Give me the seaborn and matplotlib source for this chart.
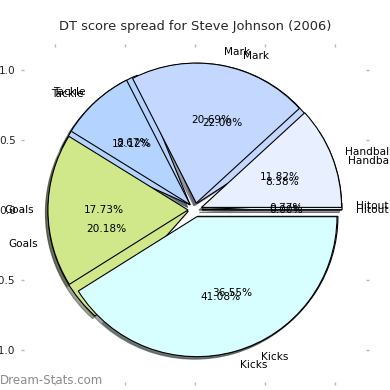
import matplotlib
matplotlib.use("Agg")
import matplotlib.pyplot as plt
import seaborn as sns

# stat categories, in wedge order (counter-clockwise from 0 deg)
categories = ["Hitout", "Handball", "Mark", "Tackle", "Goals", "Kicks"]
# share of DT score (%) - front pie
front_pct = [0.00, 11.82, 20.69, 8.67, 17.73, 41.08]
# share of DT score (%) - back pie
back_pct = [0.77, 8.38, 22.00, 12.12, 20.18, 36.55]

wedge_colors = ["#e4ecff", "#e8f0ff", "#c4d8ff", "#b4d4ff", "#d0e88a", "#d8ffff"]

sns.set_theme(style="white")
plt.rcParams['font.family'] = ['DejaVu Sans']

FS = 7.6
palette = sns.color_palette(wedge_colors)

fig = plt.figure(figsize=(3.9, 3.9), dpi=100)
ax = fig.add_axes([24 / 390, 8 / 390, 342 / 390, 335 / 390])

for vals in (back_pct, front_pct):
    ax.pie(vals, labels=categories, colors=palette, explode=[0.05] * len(vals),
           autopct='%.2f%%', shadow={'ox': -0.013, 'oy': -0.013}, startangle=0,
           wedgeprops=dict(edgecolor='black', linewidth=0.8),
           textprops=dict(fontsize=FS, color='black'))

ax.set_aspect('auto')
ax.set_xlim(-1.221, 1.221)
ax.set_ylim(-1.229, 1.164)
ticks = [-1.0, -0.5, 0.0, 0.5, 1.0]
ax.set_xticks(ticks)
ax.set_yticks(ticks)
ax.set_xticklabels([f'{t:.1f}'.replace('-', '\u2212') for t in ticks])
ax.set_yticklabels([f'{t:.1f}'.replace('-', '\u2212') for t in ticks])
ax.tick_params(direction='out', length=2.5, width=1, color='#b8b8b8',
               top=True, right=True, bottom=True, left=True,
               labelsize=FS, labelcolor='#222222', pad=3.5)
for sp in ax.spines.values():
    sp.set_visible(False)

ax.set_title('DT score spread for Steve Johnson (2006)', fontsize=9.4, pad=12)
fig.text(0.0, 1 - 380 / 390, 'Dream-Stats.com', fontsize=8.5, color='#8a8a8a',
         ha='left', va='center')

fig.savefig('out.png', dpi=100)
